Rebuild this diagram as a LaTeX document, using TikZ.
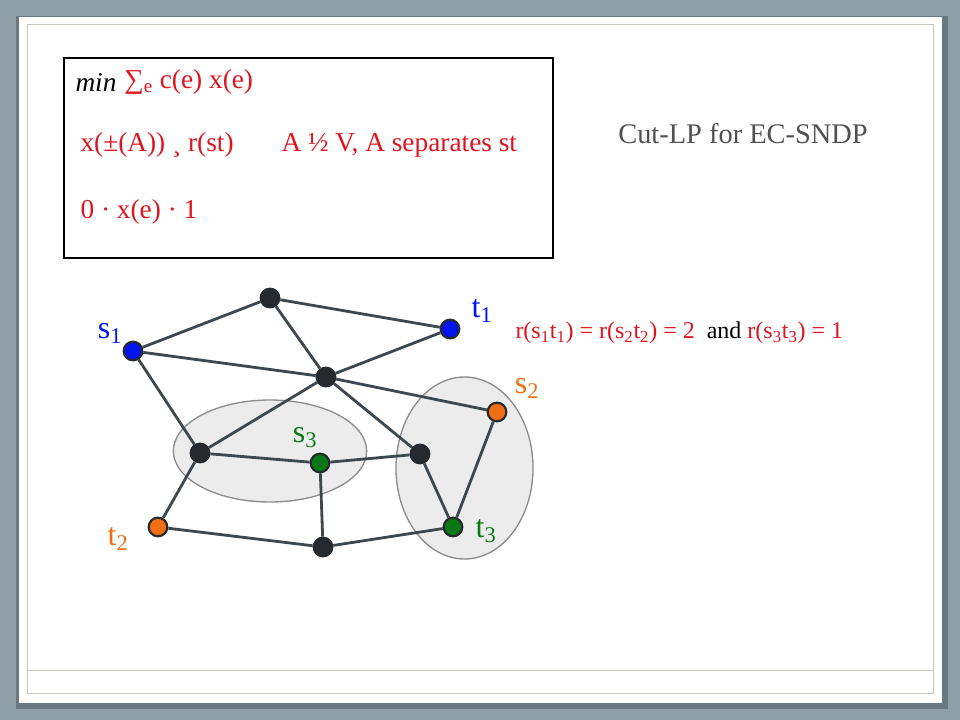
\documentclass[tikz,border=0pt]{standalone}
\usepackage{fontspec}
\setmainfont{Liberation Serif}

\definecolor{slateBg}{RGB}{143,160,168}
\definecolor{slateShadow}{RGB}{105,120,128}
\definecolor{frameLine}{RGB}{200,196,190}
\definecolor{edgeGray}{RGB}{61,72,78}
\definecolor{vtxDark}{RGB}{38,42,46}
\definecolor{vtxBlue}{RGB}{0,20,240}
\definecolor{vtxOrange}{RGB}{240,110,20}
\definecolor{vtxGreen}{RGB}{10,120,20}
\definecolor{lpRed}{RGB}{225,20,30}
\definecolor{titleGray}{RGB}{80,80,80}
\definecolor{setFill}{RGB}{236,236,236}
\definecolor{setDraw}{RGB}{140,140,140}

\tikzset{every picture/.style={line width=0.75pt}}
\tikzset{
  vtx/.style={circle, draw=vtxDark, line width=1.6pt, inner sep=0pt, minimum size=14pt, fill=#1},
  vtx/.default=vtxDark,
  gedge/.style={draw=edgeGray, line width=2.1pt},
  vlabel/.style={font=\fontsize{24}{28}\selectfont, text=#1, inner sep=0pt},
  lptext/.style={font=\fontsize{20.5}{24}\selectfont, text=lpRed, inner sep=0pt, anchor=west},
  cutset/.style={fill=setFill, draw=setDraw, line width=1pt}
}

\begin{document}
\begin{tikzpicture}[x=0.75pt,y=0.75pt,yscale=-1,xscale=1]
	\useasboundingbox (0,0) rectangle (960,720);

	%Slide background
	\fill[slateBg] (0,0) rectangle (960,720);
	\fill[slateShadow] (16,16) rectangle (948,709);
	\fill[white] (19,17) rectangle (942,703);
	\draw[frameLine] (27,25) rectangle (933,693);
	\draw[frameLine] (27,670) -- (933,670);

	%LP box
	\draw[black, line width=1pt] (64,58) rectangle (553,258);
	% Text Node
	\node[lptext, text=black] (lpMin) at (75,82) {\textit{min}};
	\node[lptext] (lpObj) at (lpMin.east) {\ ∑\textsubscript{e} c(e) x(e)};
	% Text Node
	\node[lptext] (lpCut) at (80,145) {x(±(A)) ¸ r(st)};
	\node[lptext] (lpCutFor) at (281,145) {A ½ V, A separates st};
	% Text Node
	\node[lptext] (lpBound) at (80,212) {0 · x(e) · 1};

	% Text Node
	\node[font=\fontsize{21.3}{25}\selectfont, text=titleGray, inner sep=0pt] (title) at (743,134) {Cut-LP for EC-SNDP};
	% Text Node
	\node[font=\fontsize{18}{21}\selectfont, text=lpRed, inner sep=0pt, anchor=west] (demand) at (515,333)
	  {r(s\textsubscript{1}t\textsubscript{1}) = r(s\textsubscript{2}t\textsubscript{2}) = 2 \ \textcolor{black}{and} r(s\textsubscript{3}t\textsubscript{3}) = 1};

	%Shape: Ellipse [sets]
	\draw[cutset] (270,451) ellipse [x radius=72.5pt, y radius=38.25pt];
	\draw[cutset] (464.5,468) ellipse [x radius=51.4pt, y radius=68.25pt];

	%Vertices
	\node[vtx] (top) at (270,298) {};
	\node[vtx=vtxBlue] (t1) at (450,329) {};
	\node[vtx=vtxBlue] (s1) at (133,351) {};
	\node[vtx] (hub) at (326,377) {};
	\node[vtx=vtxOrange] (s2) at (497,412) {};
	\node[vtx] (left) at (200,453) {};
	\node[vtx=vtxGreen] (s3) at (320,463) {};
	\node[vtx] (right) at (420,454) {};
	\node[vtx=vtxOrange] (t2) at (158,527) {};
	\node[vtx] (bottom) at (323,547) {};
	\node[vtx=vtxGreen] (t3) at (453,527) {};

	%Straight Lines
	\draw[gedge] (s1) -- (top) -- (t1);
	\draw[gedge] (top) -- (hub);
	\draw[gedge] (s1) -- (hub) -- (t1);
	\draw[gedge] (hub) -- (s2);
	\draw[gedge] (hub) -- (left);
	\draw[gedge] (hub) -- (right);
	\draw[gedge] (s1) -- (left) -- (s3) -- (right);
	\draw[gedge] (left) -- (t2) -- (bottom) -- (t3);
	\draw[gedge] (s3) -- (bottom);
	\draw[gedge] (right) -- (t3) -- (s2);

	% Text Node
	\node[vlabel=vtxBlue] (s1Lab) at (110,333) {s\textsubscript{1}};
	\node[vlabel=vtxBlue] (t1Lab) at (482,311) {t\textsubscript{1}};
	\node[vlabel=vtxOrange] (s2Lab) at (527,388) {s\textsubscript{2}};
	\node[vlabel=vtxGreen] (s3Lab) at (305,438) {s\textsubscript{3}};
	\node[vlabel=vtxOrange] (t2Lab) at (118,539) {t\textsubscript{2}};
	\node[vlabel=vtxGreen] (t3Lab) at (486,531) {t\textsubscript{3}};

\end{tikzpicture}
\end{document}
